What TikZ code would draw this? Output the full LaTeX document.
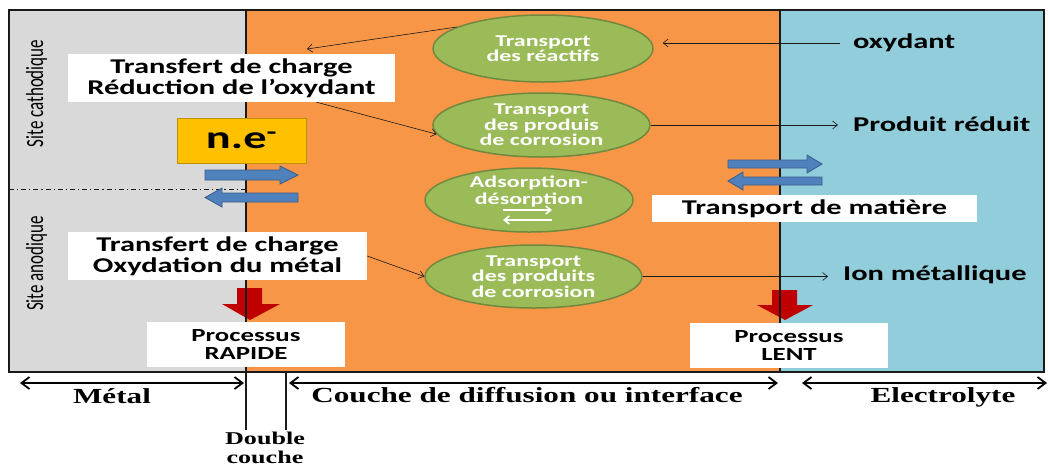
\documentclass[tikz,border=0pt]{standalone}
\usepackage{fontspec}
\usepackage{graphicx}
\setmainfont{Carlito}[FakeStretch=1.45]
\newfontfamily\sitefont{Carlito}
\newfontfamily\serifb{Liberation Serif}[FakeStretch=1.45]
\usetikzlibrary{shapes.geometric, arrows.meta, positioning}
\definecolor{vmetal}{HTML}{D9D9D9}
\definecolor{vorange}{HTML}{F79646}
\definecolor{velec}{HTML}{92CDDC}
\definecolor{vgreen}{HTML}{9BBB59}
\definecolor{vgreend}{HTML}{71893F}
\definecolor{vblue}{HTML}{4F81BD}
\definecolor{vbluedark}{HTML}{385D8A}
\definecolor{vred}{HTML}{C00000}
\definecolor{vyellow}{HTML}{FFC000}
\definecolor{vyellowd}{HTML}{BF9000}
\definecolor{vblack}{HTML}{1A1A1A}

\tikzset{
	lbox/.style = {fill = white, inner sep = 0pt, align = center, font = \bfseries\fontsize{21}{21}\selectfont},
	pbox/.style = {fill = white, inner sep = 0pt, align = center, minimum width = 198pt, minimum height = 45pt, font = \bfseries\fontsize{18.5}{18}\selectfont},
	transp/.style = {ellipse, fill = vgreen, draw = vgreend, line width = 1.5pt, inner sep = 0pt},
	ttext/.style = {text = white, align = center, inner sep = 0pt, font = \bfseries\fontsize{16.5}{15.5}\selectfont},
	rlabel/.style = {anchor = west, inner sep = 0pt, font = \bfseries\fontsize{21}{21}\selectfont},
	sitelabel/.style = {rotate = 90, anchor = base, inner sep = 0pt, font = \sitefont\fontsize{17}{17}\selectfont},
	thinarr/.style = {-{Straight Barb[length = 5pt, width = 8pt]}, line width = 0.6pt, draw = vblack},
	dimarr/.style = {{Straight Barb[length = 8pt, width = 12pt]}-{Straight Barb[length = 8pt, width = 12pt]}, line width = 1.8pt},
	blockblue/.style = {fill = vblue, draw = vbluedark, line width = 0.8pt},
	botlabel/.style = {inner sep = 0pt, align = center, font = \serifb\bfseries\fontsize{21.5}{17}\selectfont}
}

\begin{document}
\begin{tikzpicture}[x = 1pt, y = -1pt]
	\useasboundingbox (0,0) rectangle (1048,467);
	% zones
	\fill[vmetal] (9,10) rectangle (245,372);
	\fill[vorange] (245,10) rectangle (780,372);
	\fill[velec] (780,10) rectangle (1044,372);
	% fleches rouges
	\fill[vred] (237,288) -- (262,288) -- (262,304) -- (280,304) -- (250,320) -- (222,304) -- (237,304) -- cycle;
	\fill[vred] (772,290) -- (797,290) -- (797,305) -- (813,305) -- (785,320) -- (757,305) -- (772,305) -- cycle;
	% limites
	\draw[line width = 1.5pt, draw = vblack] (9,10) rectangle (1044,372);
	\draw[line width = 1.5pt, draw = vblack] (246,10) -- (246,430);
	\draw[line width = 1.5pt, draw = vblack] (780,10) -- (780,372);
	\draw[line width = 1.5pt, draw = vblack] (286,372) -- (286,430);
	\draw[line width = 1pt, dash pattern = on 5pt off 3pt on 1.2pt off 3pt, draw = vblack] (9,189) -- (245,189);
	% sites
	\node[sitelabel] (sitecath) at (43,93.5) {\scalebox{1}[1.45]{Site cathodique}};
	\node[sitelabel] (siteano) at (43,263.5) {\scalebox{1}[1.45]{Site anodique}};
	% boites
	\node[lbox, minimum width = 327pt, minimum height = 48pt] (box1) at (231.5,78) {Transfert de charge\\R\'eduction de l’oxydant};
	\node[lbox, minimum width = 299pt, minimum height = 48pt] (box2) at (217.5,256) {Transfert de charge\\Oxydation du m\'etal};
	\node[lbox, fill = vyellow, draw = vyellowd, line width = 0.6pt, minimum width = 129pt, minimum height = 45pt, font = \bfseries\fontsize{32}{32}\selectfont] (ne) at (241.5,140.5) {n.e\textsuperscript{-}};
	\node[pbox] (rapide) at (246,344.5) {Processus\\RAPIDE};
	\node[pbox] (lent) at (789,345) {Processus\\LENT};
	\node[lbox, minimum width = 325pt, minimum height = 27pt, font = \bfseries\fontsize{21}{21}\selectfont] (matiere) at (814.5,208.5) {Transport de mati\`ere};
	% fleches bleues
	\draw[blockblue] (205,170) -- (280,170) -- (280,166) -- (298,175) -- (280,184) -- (280,180) -- (205,180) -- cycle;
	\draw[blockblue] (298,193) -- (222,193) -- (222,188) -- (205,197.5) -- (222,207) -- (222,202) -- (298,202) -- cycle;
	\draw[blockblue] (728,160) -- (807,160) -- (807,155) -- (822,164) -- (807,173) -- (807,168) -- (728,168) -- cycle;
	\draw[blockblue] (822,177) -- (743,177) -- (743,172) -- (728,181) -- (743,190) -- (743,185) -- (822,185) -- cycle;
	% ellipses
	\node[transp, minimum width = 220pt, minimum height = 67pt] (e1) at (543,48.5) {};
	\node[transp, minimum width = 217pt, minimum height = 64pt] (e2) at (541.5,125) {};
	\node[transp, minimum width = 208pt, minimum height = 64pt] (e3) at (529,200) {};
	\node[transp, minimum width = 217pt, minimum height = 63pt] (e4) at (533.5,276.5) {};
	\node[ttext] (t1) at (e1) {Transport\\des r\'eactifs};
	\node[ttext] (t2) at (e2) {Transport\\des produis\\de corrosion};
	\node[ttext, font = \bfseries\fontsize{16.5}{17}\selectfont] (t3) at ([yshift = 8.5pt]e3.center) {Adsorption-\\d\'esorption};
	\node[ttext] (t4) at (e4) {Transport\\des produits\\de corrosion};
	\draw[white, line width = 1.6pt, -{Straight Barb[length = 5pt, width = 8pt]}] ([xshift = -26pt, yshift = -10pt]e3.center) -- ++(49,0);
	\draw[white, line width = 1.6pt, -{Straight Barb[length = 5pt, width = 8pt]}] ([xshift = 23pt, yshift = -20pt]e3.center) -- ++(-49,0);
	% especes
	\node[rlabel] (oxy) at (853,43) {oxydant};
	\node[rlabel] (prod) at (853,124) {Produit r\'eduit};
	\node[rlabel] (ion) at (843,275) {Ion m\'etallique};
	\coordinate (cathtip) at (307,49);
	% fleches fines
	\draw[thinarr] (e1.166) -- (cathtip);
	\draw[thinarr] ([xshift = 85pt]box1.south) -- (e2.185);
	\draw[thinarr] (box2.east) -- (e4.west);
	\draw[thinarr, shorten < = 13pt, shorten > = 9pt] (oxy.west) -- (oxy.west -| e1.east);
	\draw[thinarr, shorten > = 15pt] (e2.east) -- (e2.east -| prod.west);
	\draw[thinarr, shorten > = 15pt] (e4.east) -- (e4.east -| ion.west);
	% cotes
	\coordinate (metalL) at (20,383);
	\coordinate (metalR) at (244,383);
	\coordinate (diffL) at (289,383);
	\coordinate (diffR) at (778,383);
	\coordinate (elecL) at (802,383);
	\coordinate (elecR) at (1047,383);
	\draw[dimarr] (metalL) -- (metalR);
	\draw[dimarr] (diffL) -- (diffR);
	\draw[dimarr] (elecL) -- (elecR);
	\node[botlabel, anchor = base] (metal) at (112,403) {M\'etal};
	\node[botlabel, anchor = base] (diff) at (527,402) {Couche de diffusion ou interface};
	\node[botlabel, anchor = base] (elec) at (943,402) {Electrolyte};
	\node[botlabel, anchor = base, font = \serifb\bfseries\fontsize{18}{18.5}\selectfont] (dcouche) at (265,463) {Double\\couche};
\end{tikzpicture}
\end{document}
